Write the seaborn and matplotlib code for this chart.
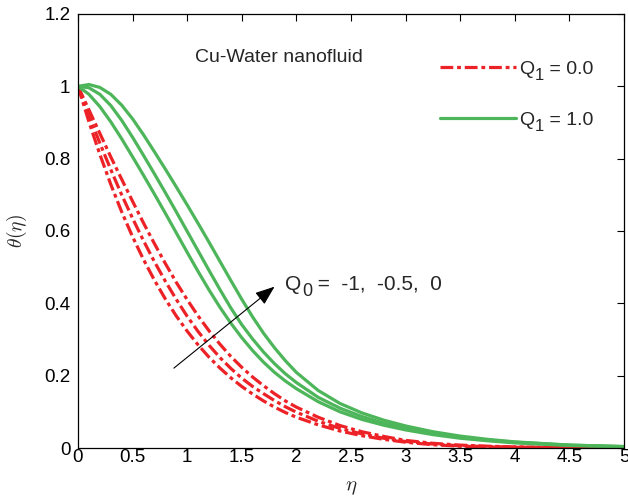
import numpy as np
import pandas as pd
import matplotlib
matplotlib.use("Agg")
import matplotlib.pyplot as plt
import seaborn as sns

# ---- data ----
eta = [0, 0.1, 0.2, 0.3, 0.4, 0.5, 0.6, 0.7, 0.8, 0.9, 1.0, 1.1, 1.2, 1.3, 1.4, 1.5,
       1.6, 1.7, 1.8, 1.9, 2.0, 2.2, 2.4, 2.6, 2.8, 3.0, 3.25, 3.5, 3.75, 4.0, 4.5, 5.0]

# Q1 = 0.0 (red, dash-dot), Q0 = -1, -0.5, 0
red_q0_m1 = [1.0, 0.902, 0.812, 0.729, 0.653, 0.584, 0.521, 0.464, 0.412, 0.365, 0.323, 0.285,
             0.251, 0.221, 0.194, 0.17, 0.149, 0.13, 0.113, 0.098, 0.085, 0.064, 0.047, 0.034,
             0.024, 0.016, 0.009, 0.005, 0.003, 0.002, 0.001, 0.0]
red_q0_m05 = [1.0, 0.92, 0.843, 0.77, 0.70, 0.635, 0.573, 0.515, 0.461, 0.411, 0.364, 0.322,
              0.284, 0.25, 0.22, 0.193, 0.17, 0.15, 0.131, 0.114, 0.099, 0.074, 0.054, 0.039,
              0.027, 0.018, 0.011, 0.006, 0.004, 0.002, 0.001, 0.0]
red_q0_0 = [1.0, 0.935, 0.87, 0.805, 0.743, 0.682, 0.622, 0.565, 0.51, 0.458, 0.41, 0.365,
            0.324, 0.287, 0.253, 0.223, 0.196, 0.172, 0.15, 0.13, 0.113, 0.085, 0.062, 0.045,
            0.032, 0.021, 0.013, 0.008, 0.005, 0.003, 0.001, 0.0]

# Q1 = 1.0 (green, solid), Q0 = -1, -0.5, 0
green_q0_m1 = [1.0, 0.978, 0.944, 0.902, 0.855, 0.805, 0.754, 0.702, 0.649, 0.595, 0.541,
               0.488, 0.437, 0.389, 0.345, 0.305, 0.269, 0.237, 0.209, 0.185, 0.164, 0.128,
               0.10, 0.079, 0.063, 0.05, 0.037, 0.027, 0.02, 0.014, 0.007, 0.003]
green_q0_m05 = [1.0, 0.996, 0.978, 0.947, 0.906, 0.859, 0.809, 0.758, 0.706, 0.653, 0.599,
                0.545, 0.491, 0.438, 0.387, 0.341, 0.301, 0.265, 0.233, 0.205, 0.181, 0.14,
                0.11, 0.087, 0.069, 0.055, 0.041, 0.03, 0.022, 0.016, 0.008, 0.004]
green_q0_0 = [1.0, 1.005, 0.997, 0.978, 0.948, 0.91, 0.866, 0.819, 0.771, 0.722, 0.672, 0.621,
              0.569, 0.516, 0.463, 0.411, 0.362, 0.317, 0.277, 0.241, 0.209, 0.159, 0.123,
              0.097, 0.077, 0.061, 0.045, 0.033, 0.024, 0.017, 0.008, 0.004]

q0_values = ["-1", "-0.5", "0"]
q1_values = ["0.0", "1.0"]
xticks = [0, 0.5, 1, 1.5, 2, 2.5, 3, 3.5, 4, 4.5, 5]
xticklabels = ["0", "0.5", "1", "1.5", "2", "2.5", "3", "3.5", "4", "4.5", "5"]
yticks = [0, 0.2, 0.4, 0.6, 0.8, 1.0, 1.2]
yticklabels = ["0", "0.2", "0.4", "0.6", "0.8", "1", "1.2"]

# ---- build long table ----
rows = []
for q1, curves in zip(q1_values, [[red_q0_m1, red_q0_m05, red_q0_0],
                                  [green_q0_m1, green_q0_m05, green_q0_0]]):
    for q0, c in zip(q0_values, curves):
        for e, t in zip(eta, c):
            rows.append({"eta": e, "theta": t, "Q1": q1, "Q0": q0})
df = pd.DataFrame(rows)

sns.set_theme(style="white")
plt.rcParams["font.family"] = ["Liberation Sans", "DejaVu Sans"]

fig = plt.figure(figsize=(6.28, 4.98), dpi=100)
ax = fig.add_axes([0.1242, 0.1004, 0.8694, 0.8715])

red = "#EC2227"
green = "#4DB55A"
sns.lineplot(data=df, x="eta", y="theta", hue="Q1", style="Q1", units="Q0",
             estimator=None, sort=False,
             palette={q1_values[0]: red, q1_values[1]: green},
             dashes={q1_values[0]: (4, 1.2, 1.2, 1.2), q1_values[1]: ""},
             linewidth=2.3, ax=ax, legend=True)

ax.set_xlim(0, 5)
ax.set_ylim(0, 1.2)
ax.set_xticks(xticks)
ax.set_xticklabels(xticklabels)
ax.set_yticks(yticks)
ax.set_yticklabels(yticklabels)
ax.tick_params(direction="in", length=5, width=0.8, top=True, right=True,
               labelsize=13.5, colors="black")
ax.tick_params(axis="x", pad=1)
ax.tick_params(axis="y", pad=5.5)
for s in ax.spines.values():
    s.set_color("black")
    s.set_linewidth(0.9)

ax.set_xlabel(r"$\eta$", fontsize=15, math_fontfamily="cm", labelpad=8)
ax.set_ylabel(r"$\theta(\eta)$", fontsize=14, math_fontfamily="cm", labelpad=11)

FS = 14
SUBFS = 12


def add_sub(anchor, sub, rest, fs=FS, subfs=SUBFS):
    s = ax.annotate(sub, xy=(1, 0), xycoords=anchor, xytext=(0.6, -4.2),
                    textcoords="offset points", fontsize=subfs, ha="left",
                    va="bottom", zorder=6)
    ax.annotate(rest, xy=(1, 0), xycoords=(s, anchor), xytext=(0, 0),
                textcoords="offset points", fontsize=fs, ha="left",
                va="bottom", zorder=6)


handles, labels = ax.get_legend_handles_labels()
leg = ax.legend(handles, ["Q", "Q"], loc="upper left", frameon=False, fontsize=FS,
                handlelength=3.9, handletextpad=0.15, labelspacing=1.72,
                borderpad=0, borderaxespad=0,
                bbox_to_anchor=((440 - 78) / 546, (448 - 60) / 434))
for t, q1 in zip(leg.get_texts(), q1_values):
    add_sub(t, "1", " = " + q1)

ax.text(1.07, 1.08, "Cu-Water nanofluid", fontsize=FS, ha="left", va="center")
ax.annotate("", xy=(1.82, 0.451), xytext=(0.858, 0.216),
            arrowprops=dict(arrowstyle="-|>,head_length=1.0,head_width=0.38",
                            color="black", lw=0.8))
tq = ax.text(1.895, 0.437, "Q", fontsize=15, ha="left", va="baseline")
add_sub(tq, "0", " =  -1,  -0.5,  0", fs=15, subfs=13)

fig.canvas.draw()
fig.savefig("out.png", dpi=100)
